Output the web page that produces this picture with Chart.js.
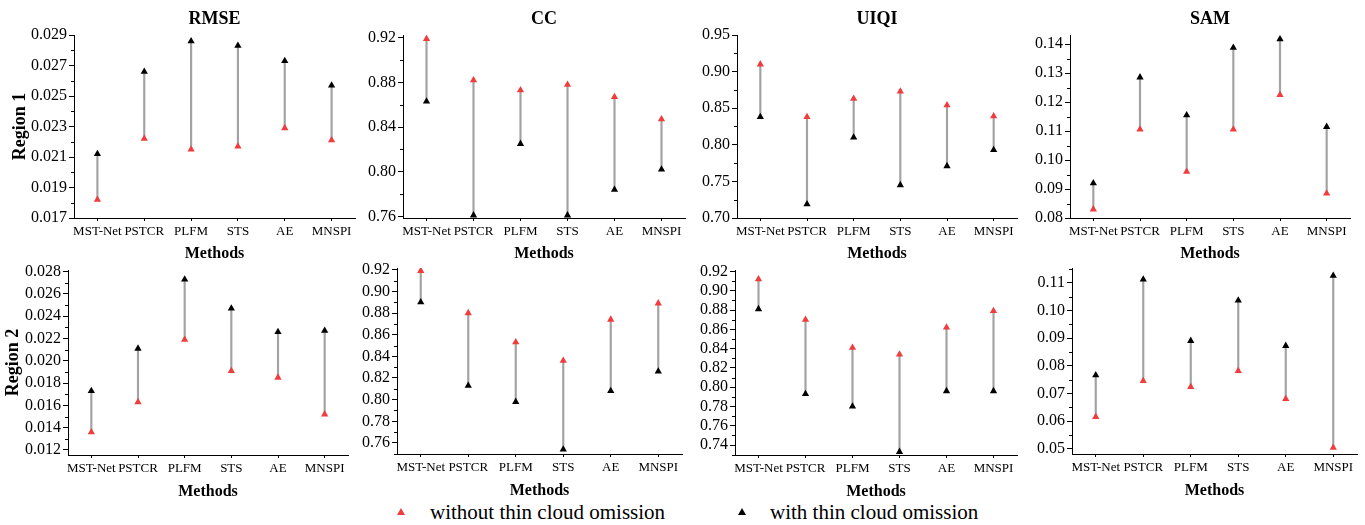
<!DOCTYPE html>
<html>
<head>
<meta charset="utf-8">
<script src="https://cdn.jsdelivr.net/npm/chart.js@4"></script>
<style>
  body { margin: 0; background: #fff; }
  #wrap { position: relative; width: 1365px; height: 525px; overflow: hidden; font-family: "Liberation Serif", "Times New Roman", serif; color: #000; }
  .pane { position: absolute; }
  .title { position: absolute; font-weight: bold; font-size: 18px; transform: translate(-50%, -50%); white-space: nowrap; }
  .tri { position: absolute; width: 0; height: 0; border-left: 4px solid transparent; border-right: 4px solid transparent; border-bottom: 7px solid #000; }
  .legtext { position: absolute; font-size: 21px; line-height: 24px; white-space: nowrap; }
</style>
</head>
<body>
<div id="wrap">
  <div class="tri" style="left:397px; top:508px; border-bottom-color:#f03c3c;"></div>
  <div class="legtext" style="left:430px; top:500px;">without thin cloud omission</div>
  <div class="tri" style="left:738px; top:508px;"></div>
  <div class="legtext" style="left:770px; top:500px;">with thin cloud omission</div>
</div>
<script>
// methods on the x axis
var methods = ['MST-Net', 'PSTCR', 'PLFM', 'STS', 'AE', 'MNSPI'];

// Region 1 values (red = without, black = with thin cloud omission)
var rmseR1Without = [0.0182, 0.0222, 0.0215, 0.0217, 0.0229, 0.0221];
var rmseR1With    = [0.0212, 0.0266, 0.0286, 0.0283, 0.0273, 0.0257];
var ccR1Without   = [0.919, 0.882, 0.873, 0.878, 0.867, 0.847];
var ccR1With      = [0.863, 0.761, 0.825, 0.761, 0.784, 0.802];
var uiqiR1Without = [0.910, 0.838, 0.863, 0.873, 0.854, 0.839];
var uiqiR1With    = [0.838, 0.719, 0.810, 0.745, 0.771, 0.793];
var samR1Without  = [0.0830, 0.1106, 0.0960, 0.1106, 0.1225, 0.0885];
var samR1With     = [0.0920, 0.1286, 0.1155, 0.1388, 0.1418, 0.1115];

// Region 2 values
var rmseR2Without = [0.0136, 0.0163, 0.0219, 0.0191, 0.0185, 0.0152];
var rmseR2With    = [0.0173, 0.0211, 0.0273, 0.0247, 0.0226, 0.0227];
var ccR2Without   = [0.919, 0.880, 0.853, 0.836, 0.874, 0.889];
var ccR2With      = [0.890, 0.813, 0.798, 0.754, 0.808, 0.826];
var uiqiR2Without = [0.912, 0.870, 0.841, 0.834, 0.862, 0.879];
var uiqiR2With    = [0.881, 0.793, 0.780, 0.733, 0.796, 0.796];
var samR2Without  = [0.0615, 0.0745, 0.0723, 0.0781, 0.0680, 0.0504];
var samR2With     = [0.0766, 0.1112, 0.0890, 0.1036, 0.0872, 0.1125];

// y tick labels
var rmseR1Ticks = ['0.017', '0.019', '0.021', '0.023', '0.025', '0.027', '0.029'];
var ccR1Ticks   = ['0.76', '0.80', '0.84', '0.88', '0.92'];
var uiqiR1Ticks = ['0.70', '0.75', '0.80', '0.85', '0.90', '0.95'];
var samR1Ticks  = ['0.08', '0.09', '0.10', '0.11', '0.12', '0.13', '0.14'];
var rmseR2Ticks = ['0.012', '0.014', '0.016', '0.018', '0.020', '0.022', '0.024', '0.026', '0.028'];
var ccR2Ticks   = ['0.76', '0.78', '0.80', '0.82', '0.84', '0.86', '0.88', '0.90', '0.92'];
var uiqiR2Ticks = ['0.74', '0.76', '0.78', '0.80', '0.82', '0.84', '0.86', '0.88', '0.90', '0.92'];
var samR2Ticks  = ['0.05', '0.06', '0.07', '0.08', '0.09', '0.10', '0.11'];

var FONT = '"Liberation Serif", "Times New Roman", serif';
var RED = '#f03c3c';

// panel layout: plot area edges in page pixels
var panels = [
  { title: 'RMSE', region: 'Region 1', regionPad: 10, without: rmseR1Without, withC: rmseR1With, ticks: rmseR1Ticks, min: 0.017, max: 0.029, L: 74, R: 355, T: 35, B: 218, W: 74, H: 47 },
  { title: 'CC', without: ccR1Without, withC: ccR1With, ticks: ccR1Ticks, min: 0.7586, max: 0.9224, L: 403, R: 685, T: 35, B: 218, W: 56, H: 47 },
  { title: 'UIQI', without: uiqiR1Without, withC: uiqiR1With, ticks: uiqiR1Ticks, min: 0.70, max: 0.95, L: 737, R: 1017, T: 35, B: 218, W: 56, H: 47 },
  { title: 'SAM', without: samR1Without, withC: samR1With, ticks: samR1Ticks, min: 0.08, max: 0.1432, L: 1070, R: 1350, T: 35, B: 218, W: 56, H: 47 },
  { region: 'Region 2', regionPad: 2.5, without: rmseR2Without, withC: rmseR2With, ticks: rmseR2Ticks, min: 0.01155, max: 0.02815, L: 68, R: 348, T: 270, B: 455, W: 68, H: 48 },
  { without: ccR2Without, withC: ccR2With, ticks: ccR2Ticks, min: 0.7498, max: 0.9216, L: 397, R: 682, T: 268, B: 454, W: 56, H: 48 },
  { without: uiqiR2Without, withC: uiqiR2With, ticks: uiqiR2Ticks, min: 0.7297, max: 0.9215, L: 735, R: 1017, T: 270, B: 455, W: 56, H: 48 },
  { without: samR2Without, withC: samR2With, ticks: samR2Ticks, min: 0.0481, max: 0.1153, L: 1072, R: 1357, T: 268, B: 454, W: 56, H: 48 }
];

// short minor ticks between the major ones
var minorTicks = {
  id: 'minorTicks',
  afterDraw: function(chart) {
    var y = chart.scales.y;
    var vals = chart.options.plugins.minorTicks.values;
    var ctx = chart.ctx;
    ctx.save();
    ctx.strokeStyle = '#000';
    ctx.lineWidth = 1;
    vals.forEach(function(v) {
      var py = Math.round(y.getPixelForValue(v)) + 0.5;
      ctx.beginPath();
      ctx.moveTo(y.right - 3, py);
      ctx.lineTo(y.right, py);
      ctx.stroke();
    });
    ctx.restore();
  }
};

var wrap = document.getElementById('wrap');
var PADT = 12, PADR = 12;

panels.forEach(function(p) {
  var tickVals = p.ticks.map(parseFloat);
  var step = tickVals[1] - tickVals[0];
  var minor = [];
  var first = tickVals[0] - step / 2;
  for (var k = 0; k <= tickVals.length; k++) {
    var v = first + k * step;
    if (v >= p.min && v <= p.max) minor.push(v);
  }

  var div = document.createElement('div');
  div.className = 'pane';
  var cw = (p.R - p.L) + p.W + PADR;
  var ch = PADT + (p.B - p.T) + p.H;
  div.style.left = (p.L - p.W) + 'px';
  div.style.top = (p.T - PADT) + 'px';
  var canvas = document.createElement('canvas');
  canvas.width = cw;
  canvas.height = ch;
  canvas.style.width = cw + 'px';
  canvas.style.height = ch + 'px';
  div.appendChild(canvas);
  wrap.appendChild(div);

  if (p.title) {
    var t = document.createElement('div');
    t.className = 'title';
    t.textContent = p.title;
    t.style.left = ((p.L + p.R) / 2) + 'px';
    t.style.top = '18px';
    wrap.appendChild(t);
  }

  new Chart(canvas, {
    type: 'bar',
    data: {
      labels: methods,
      datasets: [
        {
          type: 'bar',
          data: p.without.map(function(v, i) { return [v, p.withC[i]]; }),
          backgroundColor: '#a2a2a2',
          barThickness: 1.5,
          order: 3
        },
        {
          type: 'line',
          label: 'without thin cloud omission',
          data: p.without,
          showLine: false,
          pointStyle: 'triangle',
          pointRadius: 4.2,
          pointBorderWidth: 0,
          pointBackgroundColor: RED,
          pointBorderColor: RED,
          order: 1
        },
        {
          type: 'line',
          label: 'with thin cloud omission',
          data: p.withC,
          showLine: false,
          pointStyle: 'triangle',
          pointRadius: 4.2,
          pointBorderWidth: 0,
          pointBackgroundColor: '#000',
          pointBorderColor: '#000',
          order: 2
        }
      ]
    },
    options: {
      responsive: false,
      animation: false,
      events: [],
      layout: { padding: { top: PADT, right: PADR, left: 0, bottom: 0 } },
      plugins: {
        legend: { display: false },
        tooltip: { enabled: false },
        minorTicks: { values: minor }
      },
      scales: {
        x: {
          type: 'category',
          offset: true,
          grid: { display: true, drawOnChartArea: false, offset: false, tickLength: 3, tickColor: '#000', tickWidth: 1 },
          border: { display: true, color: '#000', width: 1 },
          ticks: { color: '#000', font: { family: FONT, size: 13 }, padding: 3, autoSkip: false, maxRotation: 0, minRotation: 0 },
          title: { display: true, text: 'Methods', color: '#000', font: { family: FONT, size: 16, weight: 'bold' }, padding: { top: 0, bottom: 2 } },
          afterFit: function(s) { s.height = p.H; }
        },
        y: {
          type: 'linear',
          min: p.min,
          max: p.max,
          afterBuildTicks: function(s) { s.ticks = tickVals.map(function(v) { return { value: v }; }); },
          grid: { display: true, drawOnChartArea: false, tickLength: 5, tickColor: '#000', tickWidth: 1 },
          border: { display: true, color: '#000', width: 1 },
          ticks: {
            color: '#000',
            font: { family: FONT, size: 16 },
            padding: 2,
            autoSkip: false,
            callback: function(v, i) { return p.ticks[i]; }
          },
          title: {
            display: !!p.region,
            text: p.region || '',
            color: '#000',
            font: { family: FONT, size: 18, weight: 'bold' },
            padding: { top: p.regionPad || 0, bottom: 0 }
          },
          afterFit: function(s) { s.width = p.W; }
        }
      }
    },
    plugins: [minorTicks]
  });
});
</script>
</body>
</html>
